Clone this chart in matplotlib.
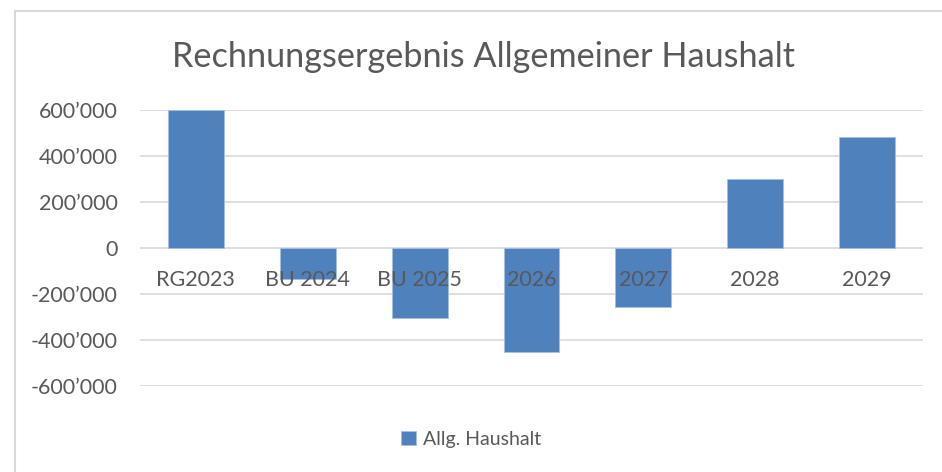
import matplotlib.pyplot as plt
from matplotlib.lines import Line2D
from matplotlib.ticker import FuncFormatter, FixedLocator

# data
categories = ['RG2023', 'BU 2024', 'BU 2025', '2026', '2027', '2028', '2029']
values = [600000, -135000, -306000, -453000, -258000, 301000, 481000]
series_name = 'Allg. Haushalt'
title = 'Rechnungsergebnis Allgemeiner Haushalt'
yticks = [-600000, -400000, -200000, 0, 200000, 400000, 600000]

bar_color = '#4F81BD'
text_color = '#595959'
grid_color = '#D9D9D9'

plt.rcParams['font.family'] = ['Lato', 'DejaVu Sans']

fig = plt.figure(figsize=(9.42, 4.72), dpi=100)
ax = fig.add_axes([140 / 942, 1 - 386 / 472, 783 / 942, 276 / 472])

x = list(range(len(categories)))
bars = ax.bar(x, values, width=0.5, color=bar_color, edgecolor='#A7C0DE',
              linewidth=0.6, zorder=2, label=series_name)

ax.set_xlim(-0.5, len(categories) - 0.5)
ax.set_ylim(yticks[0], yticks[-1])
ax.yaxis.set_major_locator(FixedLocator(yticks))
ax.yaxis.set_major_formatter(FuncFormatter(lambda v, p: f'{v:,.0f}'.replace(',', '\u2019')))
ax.tick_params(axis='y', length=0, pad=16, labelsize=15.5, labelcolor=text_color)
ax.set_xticks([])
ax.grid(axis='y', color=grid_color, linewidth=1.2, zorder=0)
for s in ax.spines.values():
    s.set_visible(False)

# category labels sit just under the zero line, drawn over the bars
for xi, name in zip(x, categories):
    ax.annotate(name, (xi, 0), xytext=(0, -32), textcoords='offset pixels',
                ha='center', va='center', fontsize=15.5, color=text_color, zorder=5)

fig.text(484 / 942, 1 - 57 / 472, title, ha='center', va='center',
         fontsize=24.7, color=text_color)

leg = fig.legend(handles=[bars], labels=[series_name], loc='center',
                 bbox_to_anchor=(471 / 942, 1 - 439 / 472), frameon=False,
                 fontsize=14, handlelength=0.75, handleheight=0.75,
                 handletextpad=0.35)
for t in leg.get_texts():
    t.set_color(text_color)

# chart frame (only left and top edges visible in the crop)
fig.add_artist(Line2D([14.5 / 942, 14.5 / 942], [0, 1 - 11 / 472], color=grid_color,
                      linewidth=1.5, transform=fig.transFigure))
fig.add_artist(Line2D([14.5 / 942, 1], [1 - 11 / 472, 1 - 11 / 472], color=grid_color,
                      linewidth=1.5, transform=fig.transFigure))

fig.savefig('out.png', dpi=100)
